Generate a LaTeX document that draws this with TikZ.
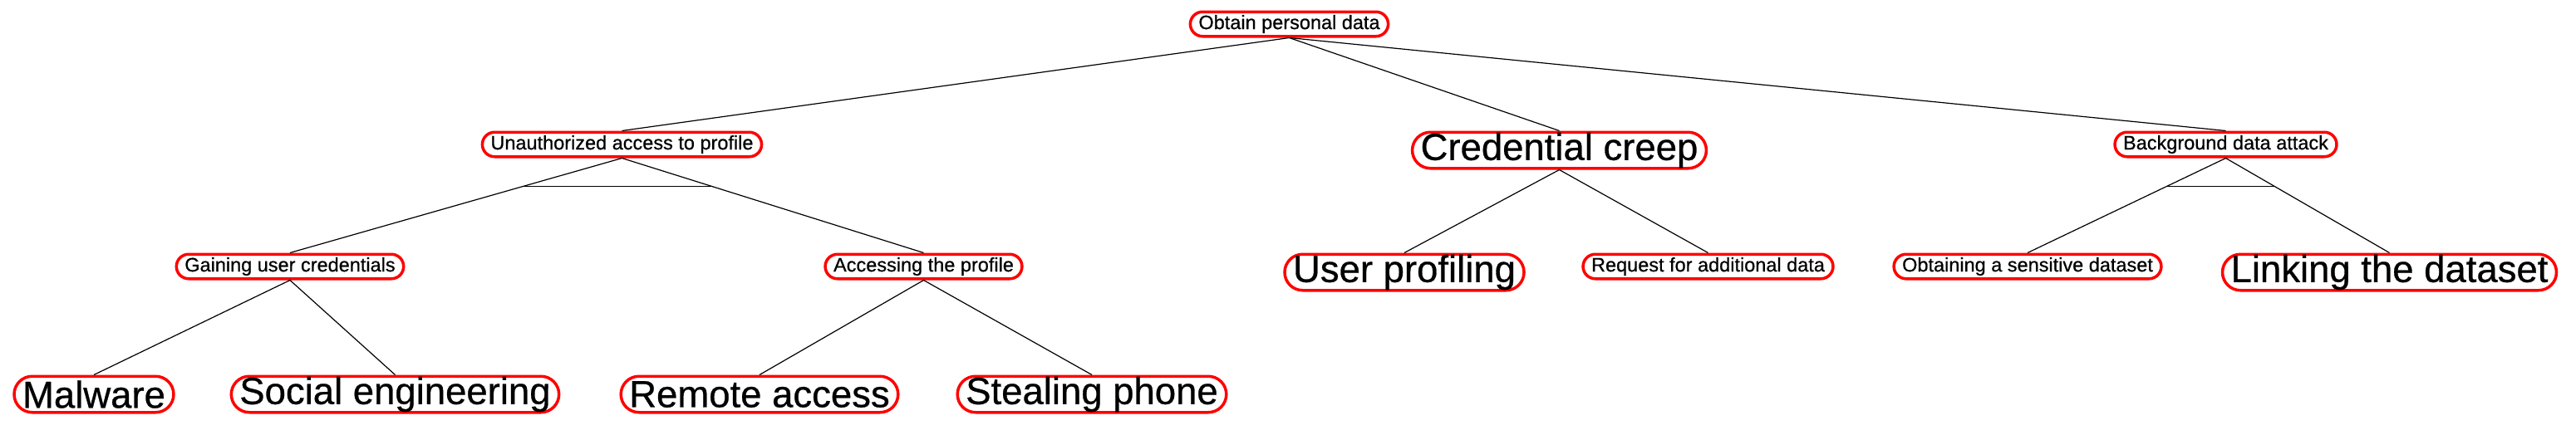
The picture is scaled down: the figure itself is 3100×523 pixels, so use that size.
\documentclass[tikz,border=0pt]{standalone}
\usepackage{fontspec}
\setmainfont{Liberation Sans}[BoldFont={Liberation Sans}, BoldFeatures={FakeBold=0.6}]
\usetikzlibrary{calc}
\begin{document}
\begin{tikzpicture}[x=1pt,y=-1pt,
  goal/.style={draw=red, line width=3.5pt, rounded corners=14.75pt, anchor=north,
    inner xsep=10pt, inner ysep=0pt, minimum height=29.5pt,
    font=\fontsize{23.5}{28}\selectfont\bfseries, text=black},
  biggoal/.style={goal, rounded corners=21.75pt, minimum height=43.5pt,
    font=\fontsize{45.5}{54}\selectfont\bfseries},
  link/.style={draw=black, line width=1.2pt}]
\useasboundingbox (0,0) rectangle (3100,523);

\node[goal] (root) at (1551.5,12.5) {Obtain personal data};

\node[goal] (u) at (748.5,157.5) {Unauthorized access to profile};
\node[biggoal] (cc) at (1876.5,157.5) {Credential creep};
\node[goal] (bg) at (2678.5,157.5) {Background data attack};

\node[goal] (guc) at (349,304.5) {Gaining user credentials};
\node[goal] (ap) at (1111.5,304.5) {Accessing the profile};
\node[biggoal] (up) at (1690,304.5) {User profiling};
\node[goal] (req) at (2055.5,304.5) {Request for additional data};
\node[goal] (obt) at (2440,304.5) {Obtaining a sensitive dataset};
\node[biggoal] (lnk) at (2875.5,304.5) {Linking the dataset};

\node[biggoal] (mal) at (113,451.5) {Malware};
\node[biggoal] (soc) at (475.5,451.5) {Social engineering};
\node[biggoal] (rem) at (914,451.5) {Remote access};
\node[biggoal] (steal) at (1314,451.5) {Stealing phone};

\foreach \p/\c in {root/u, root/cc, root/bg, u/guc, u/ap, cc/up, cc/req,
                   bg/obt, bg/lnk, guc/mal, guc/soc, ap/rem, ap/steal}
  \draw[link] (\p.south) -- (\c.north);

\draw[link] ($(u.south)!0.296!(guc.north)$) -- ($(u.south)!0.296!(ap.north)$);
\draw[link] ($(bg.south)!0.296!(obt.north)$) -- ($(bg.south)!0.296!(lnk.north)$);
\end{tikzpicture}
\end{document}
